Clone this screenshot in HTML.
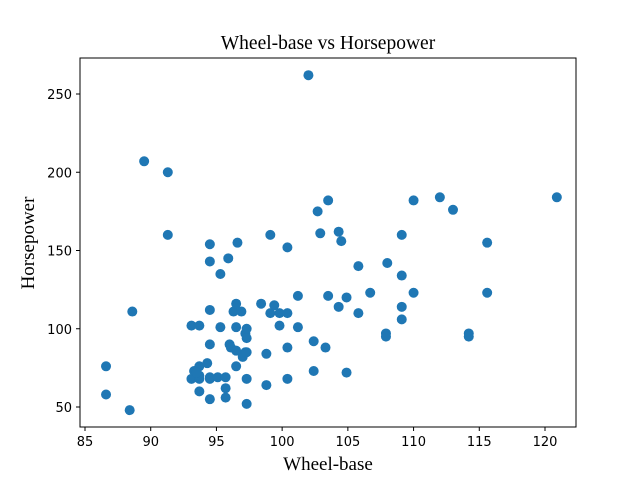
<!DOCTYPE html>
<html><head><meta charset="utf-8"><style>
html,body{margin:0;padding:0;background:#fff;}
svg{display:block;}
</style></head><body>
<svg id="chart" width="640" height="480" viewBox="0 0 640 480" xmlns="http://www.w3.org/2000/svg">
<rect width="640" height="480" fill="#fff"/>
<text x="328" y="49" text-anchor="middle" font-family="Liberation Serif, serif" font-size="19.5">Wheel-base vs Horsepower</text>
<g id="points"></g>
<g id="xticks"></g>
<g id="yticks"></g>
<rect x="80" y="58" width="496" height="369" fill="none" stroke="#000" stroke-width="1"/>
<text x="328" y="470" text-anchor="middle" font-family="Liberation Serif, serif" font-size="19">Wheel-base</text>
<text x="34" y="243" text-anchor="middle" transform="rotate(-90 34 243)" font-family="Liberation Serif, serif" font-size="19">Horsepower</text>
</svg>
<script>
const wheelBase=[86.6,86.6,88.4,88.6,89.5,91.3,91.3,93.1,93.1,93.7,93.7,93.7,93.7,93.3,93.5,93.7,94.3,94.5,94.5,94.5,94.5,94.5,94.5,94.5,95.1,95.3,95.3,95.7,95.7,95.7,95.9,96.0,96.1,96.3,96.5,96.5,96.5,96.5,96.6,96.9,97.0,97.2,97.2,97.3,97.3,97.3,97.3,97.3,98.4,98.8,98.8,99.1,99.1,99.4,99.8,99.8,100.4,100.4,100.4,100.4,101.2,101.2,102.0,102.4,102.4,102.7,102.9,103.3,103.5,103.5,104.3,104.3,104.5,104.9,104.9,105.8,105.8,106.7,107.9,107.9,108.0,109.1,109.1,109.1,109.1,110.0,110.0,112.0,113.0,114.2,114.2,115.6,115.6,120.9];
const horsepower=[76,58,48,111,207,200,160,68,102,102,68,76,70,73,72,60,78,68,69,55,90,112,154,143,69,101,135,69,62,56,145,90,88,111,116,101,86,76,155,111,82,85,97,100,94,68,52,85,116,84,64,110,160,115,110,102,110,152,88,68,121,101,262,92,73,175,161,88,182,121,162,114,156,120,72,140,110,123,97,95,142,160,134,114,106,182,123,184,176,97,95,155,123,184];
const xTickValues=[85,90,95,100,105,110,115,120];
const yTickValues=[50,100,150,200,250];
const NS="http://www.w3.org/2000/svg";
function xs(v){return 85+(v-85)*460/35;}
function ys(v){return 407-(v-50)*313/200;}
const pg=document.getElementById('points');
for(let i=0;i<wheelBase.length;i++){
  const c=document.createElementNS(NS,'circle');
  c.setAttribute('cx',xs(wheelBase[i]));
  c.setAttribute('cy',ys(horsepower[i]));
  c.setAttribute('r',5);
  c.setAttribute('fill','#1f77b4');
  
  
  pg.appendChild(c);
}
const xg=document.getElementById('xticks');
xTickValues.forEach(v=>{
  const l=document.createElementNS(NS,'line');
  l.setAttribute('x1',xs(v));l.setAttribute('x2',xs(v));
  l.setAttribute('y1',427);l.setAttribute('y2',431);
  l.setAttribute('stroke','#000');
  
  
  xg.appendChild(l);
  const t=document.createElementNS(NS,'text');
  t.setAttribute('x',xs(v));t.setAttribute('y',446);
  t.setAttribute('text-anchor','middle');
  t.setAttribute('font-family','DejaVu Sans, sans-serif');
  t.setAttribute('font-size','13');
  t.textContent=v;
  
  
  xg.appendChild(t);
});
const yg=document.getElementById('yticks');
yTickValues.forEach(v=>{
  const l=document.createElementNS(NS,'line');
  l.setAttribute('x1',76);l.setAttribute('x2',80);
  l.setAttribute('y1',ys(v));l.setAttribute('y2',ys(v));
  l.setAttribute('stroke','#000');
  
  
  yg.appendChild(l);
  const t=document.createElementNS(NS,'text');
  t.setAttribute('x',72);t.setAttribute('y',ys(v)+5);
  t.setAttribute('text-anchor','end');
  t.setAttribute('font-family','DejaVu Sans, sans-serif');
  t.setAttribute('font-size','13');
  t.textContent=v;
  
  
  yg.appendChild(t);
});
</script>
</body></html>
